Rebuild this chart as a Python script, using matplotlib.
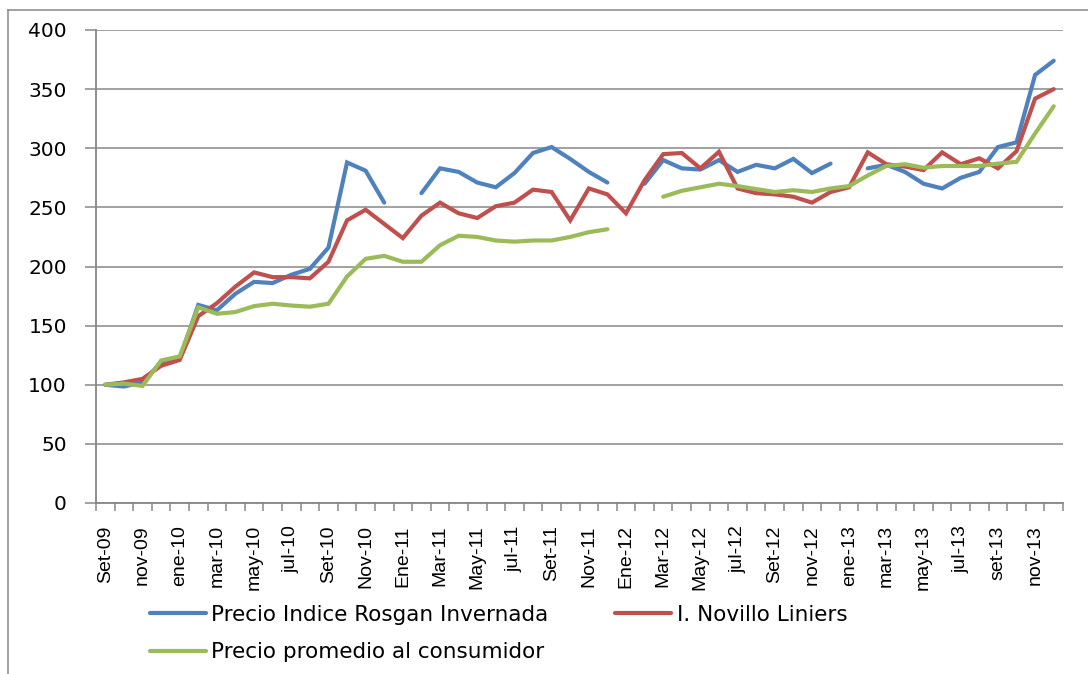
import matplotlib
matplotlib.use("Agg")
import matplotlib.pyplot as plt
import numpy as np
from matplotlib.lines import Line2D

# ---------------- data ----------------
tick_labels = ["Set-09", "nov-09", "ene-10", "mar-10", "may-10", "jul-10",
               "Set-10", "Nov-10", "Ene-11", "Mar-11", "May-11", "jul-11",
               "Set-11", "Nov-11", "Ene-12", "Mar-12", "May-12", "jul-12",
               "Set-12", "nov-12", "ene-13", "mar-13", "may-13", "jul-13",
               "set-13", "nov-13"]

rosgan = [100, 98.5, 102, 119, 122, 167.5, 163, 177, 187, 186, 193, 198, 216,
          288, 281, 254, None, 262, 283, 280, 271, 267, 279, 296, 301, 291,
          280, 271, None, 270, 290, 283, 282, 290, 280, 286, 283, 291, 279,
          287, None, 283, 286, 280, 270, 266, 275, 280, 301, 305, 362, 374]

liniers = [100, 102, 105, 116, 121, 158, 169, 183, 195, 191, 191, 190, 204,
           239, 248, 236, 224, 243, 254, 245, 241, 251, 254, 265, 263, 239,
           266, 261, 245, 273, 295, 296, 283, 297, 266, 262, 261, 259, 254,
           263, 267, 296.5, 286.5, 284.5, 281.5, 296.5, 286.5, 291.5, 283,
           297.5, 342, 350]

consumidor = [100, 101, 99, 120.5, 124, 165.5, 160, 161.5, 166.5, 168.5, 167,
              166, 168.5, 191.5, 206.5, 209, 204, 204, 218, 226, 225, 222, 221,
              222, 222, 225, 229, 231.5, None, None, 259, 264, 267, 270, 268,
              265.5, 263, 264.5, 263, 266, 268, 277, 285, 286.5, 283.5, 285,
              285, 285, 287, 288.5, 312.5, 335.5]

series_names = ["Precio Indice Rosgan Invernada", "I. Novillo Liniers",
                "Precio promedio al consumidor"]
colors = ["#4F81BD", "#C0504D", "#9BBB59"]

# ---------------- figure ----------------
W, H = 1088, 674
fig = plt.figure(figsize=(W / 100, H / 100), dpi=100)
ax = fig.add_axes([96 / W, 1 - 503 / H, (1063 - 96) / W, (503 - 30) / H])

n = len(rosgan)
x = np.arange(n)

def arr(v):
    return np.array([np.nan if a is None else a for a in v], dtype=float)

lines = []
for vals, c, name in zip([rosgan, liniers, consumidor], colors, series_names):
    l, = ax.plot(x, arr(vals), color=c, lw=3.0, solid_capstyle="round",
                 solid_joinstyle="miter", label=name, zorder=3)
    lines.append(l)

grid_c = "#878787"
ax.set_xlim(-0.5, n - 0.5)
ax.set_ylim(0, 400)
ax.set_yticks(np.arange(0, 401, 50))
ax.yaxis.grid(True, color=grid_c, lw=1.1)
ax.set_axisbelow(True)

for s in ["top", "right"]:
    ax.spines[s].set_visible(False)
for s in ["left", "bottom"]:
    ax.spines[s].set_color(grid_c)
    ax.spines[s].set_linewidth(1.3)

ax.tick_params(axis="y", direction="out", length=8, width=1.1, color=grid_c,
               pad=13, labelsize=14.5, labelcolor="#000000")

ax.set_xticks(np.arange(0, n, 2))
ax.set_xticklabels(tick_labels, rotation=90,
                   family=["Liberation Sans", "DejaVu Sans"],
                   fontsize=14)
ax.set_xticks(np.arange(-0.5, n, 1), minor=True)
ax.tick_params(axis="x", which="major", length=0, pad=16)
ax.tick_params(axis="x", which="minor", direction="out", length=6,
               width=1.1, color=grid_c)

# outer chart border (top and left visible)
fig.add_artist(Line2D([8 / W, 1.0], [1 - 10 / H, 1 - 10 / H],
                      color=grid_c, lw=1.1, transform=fig.transFigure))
fig.add_artist(Line2D([8 / W, 8 / W], [0.0, 1 - 10 / H],
                      color=grid_c, lw=1.1, transform=fig.transFigure))

# legend: order blue, green (column 1) and red (column 2)
fs = 15.5
handles = [lines[0], lines[2], lines[1]]
labels = [series_names[0], series_names[2], series_names[1]]
leg = fig.legend(handles, labels, ncol=2, loc="upper left",
                 bbox_to_anchor=(150 / W, 1 - 605 / H), frameon=False,
                 prop={"family": "DejaVu Sans", "size": fs},
                 handlelength=2.6, handletextpad=0.25,
                 columnspacing=3.1, labelspacing=0.8, borderpad=0,
                 borderaxespad=0)

fig.savefig("out.png", dpi=100)
